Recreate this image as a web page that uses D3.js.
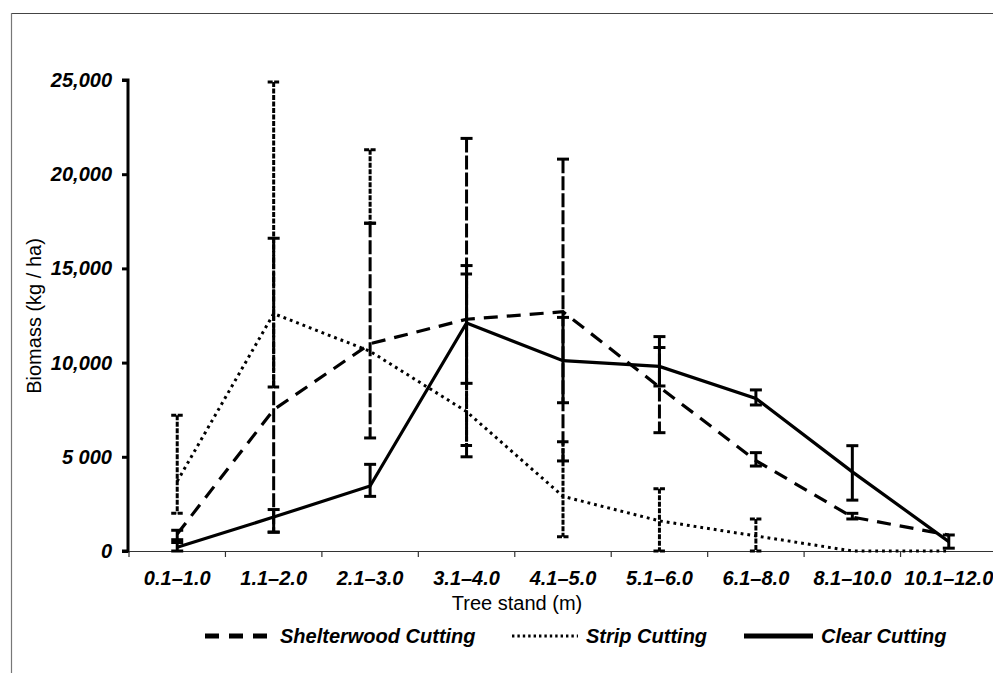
<!DOCTYPE html>
<html>
<head>
<meta charset="utf-8">
<script src="https://cdn.jsdelivr.net/npm/d3@7"></script>
<style>
  body { margin: 0; background: #fff; }
  text { font-family: "Liberation Sans", Arial, sans-serif; fill: #000; }
  .tick-lab { font-weight: bold; font-style: italic; font-size: 20px; }
</style>
</head>
<body>
<div id="chart"></div>
<script>
const width = 993, height = 673;

// categories (tree stand height classes)
var categories = ["0.1–1.0", "1.1–2.0", "2.1–3.0", "3.1–4.0", "4.1–5.0",
                  "5.1–6.0", "6.1–8.0", "8.1–10.0", "10.1–12.0"];

// Shelterwood cutting: mean and error bar ends
var shelterwood     = [900, 7500, 11000, 12300, 12700, 8700, 4800, 1800, 850];
var shelterwoodLow  = [600, 1000, 6000, 5000, 4780, 6280, 4510, 1700, 850];
var shelterwoodHigh = [1100, 16600, 17400, 21900, 20800, 11380, 5220, 2000, 850];

// Strip cutting
var strip     = [3700, 12600, 10600, 7400, 2900, 1600, 800, 0, 0];
var stripLow  = [2000, 8700, 17400, 5600, 760, 0, 0, 0, 0];
var stripHigh = [7200, 24900, 21300, 14700, 5800, 3300, 1700, 0, 0];

// Clear cutting
var clear     = [200, 1800, 3450, 12100, 10100, 9800, 8100, 4200, 500];
var clearLow  = [0, 1000, 2900, 8900, 7870, 8760, 7750, 2700, 150];
var clearHigh = [450, 2200, 4600, 15150, 12400, 10800, 8550, 5590, 850];

var yTicks = [0, 5000, 10000, 15000, 20000, 25000];
var yTickLabels = ["0", "5 000", "10,000", "15,000", "20,000", "25,000"];

var legendNames = ["Shelterwood Cutting", "Strip Cutting", "Clear Cutting"];

const svg = d3.select("#chart").append("svg")
    .attr("width", width)
    .attr("height", height);

// frame lines (top and left)
svg.append("line").attr("x1", 11).attr("x2", width).attr("y1", 13.5).attr("y2", 13.5)
    .attr("stroke", "#444").attr("stroke-width", 1.2);
svg.append("line").attr("x1", 11.5).attr("x2", 11.5).attr("y1", 13).attr("y2", height)
    .attr("stroke", "#777").attr("stroke-width", 1.2);

const x = d3.scaleBand().domain(categories).range([129, 997]).padding(0);
const y = d3.scaleLinear().domain([0, 25000]).range([551, 80]);
const cx = function(c) { return x(c) + x.bandwidth() / 2; };

// x axis
const xAxis = svg.append("g")
    .attr("transform", "translate(0,551)")
    .call(d3.axisBottom(x).tickSize(0).tickPadding(20));
xAxis.select(".domain").attr("stroke", "#333").attr("stroke-width", 1.2);
xAxis.selectAll("text").attr("class", "tick-lab").attr("fill", "#000");

// boundary ticks
var bounds = categories.map(function(c) { return x(c); }).concat([x.range()[1]]);
svg.append("g").selectAll("line")
    .data(bounds)
    .join("line")
    .attr("x1", d => d).attr("x2", d => d)
    .attr("y1", 551).attr("y2", 557)
    .attr("stroke", "#333").attr("stroke-width", 1.2);

// y axis
const yAxis = svg.append("g")
    .attr("transform", "translate(128,0)")
    .call(d3.axisLeft(y).tickValues(yTicks).tickSize(6).tickPadding(10)
      .tickFormat(function(d, i) { return yTickLabels[i]; }));
yAxis.select(".domain").attr("stroke", "#000").attr("stroke-width", 3)
    .attr("d", "M-6,80H0V551H-6");
yAxis.selectAll(".tick line").attr("stroke", "#000").attr("stroke-width", 3);
yAxis.selectAll("text").attr("class", "tick-lab").attr("fill", "#000");

// axis titles
svg.append("text")
    .attr("x", 517).attr("y", 610)
    .attr("text-anchor", "middle")
    .style("font-size", "20px")
    .text("Tree stand (m)");

svg.append("text")
    .attr("transform", "translate(41,316) rotate(-90)")
    .attr("text-anchor", "middle")
    .style("font-size", "20px")
    .text("Biomass (kg / ha)");

// error bars
function errorBars(mean, lo, hi, dash) {
  var rows = categories.map(function(c, i) {
    return {c: c, lo: lo[i], hi: hi[i]};
  }).filter(d => d.hi > d.lo);
  var g = svg.append("g")
      .attr("stroke", "#000")
      .attr("stroke-width", 3)
      .attr("stroke-dasharray", dash);
  g.selectAll(".bar").data(rows).join("line")
      .attr("x1", d => cx(d.c)).attr("x2", d => cx(d.c))
      .attr("y1", d => y(d.hi)).attr("y2", d => y(d.lo));
  g.selectAll(".caphi").data(rows).join("line")
      .attr("x1", d => cx(d.c) - 6).attr("x2", d => cx(d.c) + 6)
      .attr("y1", d => y(d.hi)).attr("y2", d => y(d.hi));
  g.selectAll(".caplo").data(rows).join("line")
      .attr("x1", d => cx(d.c) - 6).attr("x2", d => cx(d.c) + 6)
      .attr("y1", d => y(d.lo)).attr("y2", d => y(d.lo));
}

errorBars(strip, stripLow, stripHigh, "5,1.5");
errorBars(shelterwood, shelterwoodLow, shelterwoodHigh, "14,3");
errorBars(clear, clearLow, clearHigh, null);

// lines
const line = d3.line()
    .x(function(d, i) { return cx(categories[i]); })
    .y(function(d) { return y(d); });

svg.append("path")
    .attr("d", line(shelterwood))
    .attr("fill", "none").attr("stroke", "#000")
    .attr("stroke-width", 3.2).attr("stroke-dasharray", "14,9");

svg.append("path")
    .attr("d", line(strip))
    .attr("fill", "none").attr("stroke", "#000")
    .attr("stroke-width", 3).attr("stroke-dasharray", "2.8,4");

svg.append("path")
    .attr("d", line(clear))
    .attr("fill", "none").attr("stroke", "#000")
    .attr("stroke-width", 3.2);

// legend
var legendX = [205, 512, 744];
var legendW = [67, 66, 69];
var legendDash = ["14,10", "2.4,3", null];
var legendSW = [5, 3, 5];
var lg = svg.append("g");
legendNames.forEach(function(name, i) {
  lg.append("line")
      .attr("x1", legendX[i]).attr("x2", legendX[i] + legendW[i])
      .attr("y1", 636).attr("y2", 636)
      .attr("stroke", "#000")
      .attr("stroke-width", legendSW[i])
      .attr("stroke-dasharray", legendDash[i]);
  lg.append("text")
      .attr("x", legendX[i] + legendW[i] + 8).attr("y", 643)
      .attr("class", "tick-lab")
      .text(name);
});
</script>
</body>
</html>
